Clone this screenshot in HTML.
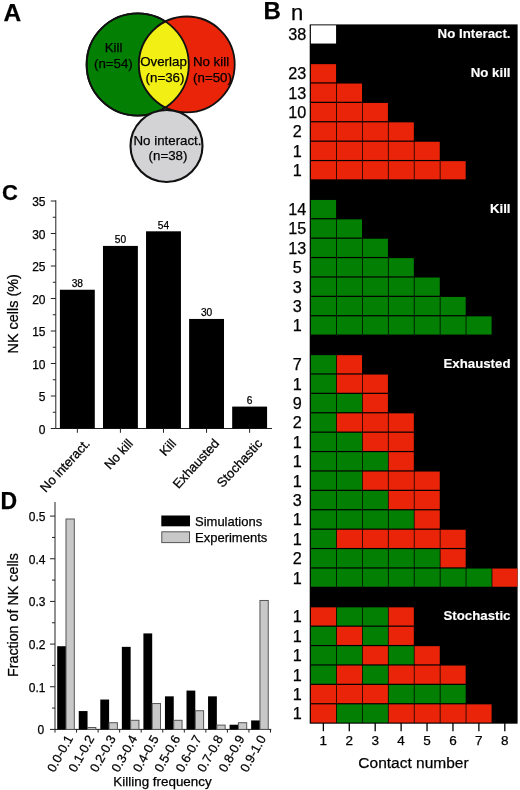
<!DOCTYPE html>
<html><head><meta charset="utf-8"><title>Figure</title>
<style>html,body{margin:0;padding:0;background:#fff}svg{display:block}text{font-family:"Liberation Sans", sans-serif;fill:#000;stroke:#000;stroke-width:0.25px}</style>
</head><body>
<svg width="520" height="790" viewBox="0 0 520 790">
<rect x="0" y="0" width="520" height="790" fill="#fff"/>
<g id="panelA">
<text x="3.4" y="20.8" font-size="24.5" font-weight="bold">A</text>
<circle cx="137.7" cy="64.5" r="51.1" fill="#038003" stroke="#111" stroke-width="1.8"/>
<circle cx="186.8" cy="64.4" r="47.9" fill="#ea2409" stroke="#111" stroke-width="1.8"/>
<clipPath id="cg"><circle cx="137.7" cy="64.5" r="51.1"/></clipPath>
<circle cx="186.8" cy="64.4" r="47.9" fill="#f2ef14" stroke="#111" stroke-width="1.8" clip-path="url(#cg)"/>
<circle cx="137.7" cy="64.5" r="51.1" fill="none" stroke="#111" stroke-width="1.8"/>
<circle cx="166.5" cy="146" r="36" fill="#d3d3d5" stroke="#111" stroke-width="2.1"/>
<text x="113.6" y="52" font-size="13.3" text-anchor="middle" >Kill</text>
<text x="113.4" y="67.5" font-size="13.3" text-anchor="middle" >(n=54)</text>
<text x="163.5" y="66" font-size="13.3" text-anchor="middle" >Overlap</text>
<text x="165" y="81.5" font-size="13.3" text-anchor="middle" >(n=36)</text>
<text x="211" y="66" font-size="13.3" text-anchor="middle" >No kill</text>
<text x="212.5" y="81.5" font-size="13.3" text-anchor="middle" >(n=50)</text>
<text x="167.5" y="145" font-size="13.3" text-anchor="middle" >No interact.</text>
<text x="168" y="160.2" font-size="13.3" text-anchor="middle" >(n=38)</text>
</g>
<g id="panelC">
<text x="2" y="199.6" font-size="22" font-weight="bold">C</text>
<path d="M55.8 200.3V428.5H272" fill="none" stroke="#222" stroke-width="1"/>
<path d="M50.8 428.5H55.8" stroke="#222" stroke-width="1"/>
<text x="45.5" y="433.8" font-size="12" text-anchor="end" >0</text>
<path d="M50.8 396.0H55.8" stroke="#222" stroke-width="1"/>
<text x="45.5" y="401.3" font-size="12" text-anchor="end" >5</text>
<path d="M50.8 363.5H55.8" stroke="#222" stroke-width="1"/>
<text x="45.5" y="368.8" font-size="12" text-anchor="end" >10</text>
<path d="M50.8 331.0H55.8" stroke="#222" stroke-width="1"/>
<text x="45.5" y="336.3" font-size="12" text-anchor="end" >15</text>
<path d="M50.8 298.5H55.8" stroke="#222" stroke-width="1"/>
<text x="45.5" y="303.8" font-size="12" text-anchor="end" >20</text>
<path d="M50.8 266.0H55.8" stroke="#222" stroke-width="1"/>
<text x="45.5" y="271.3" font-size="12" text-anchor="end" >25</text>
<path d="M50.8 233.5H55.8" stroke="#222" stroke-width="1"/>
<text x="45.5" y="238.8" font-size="12" text-anchor="end" >30</text>
<path d="M50.8 201.0H55.8" stroke="#222" stroke-width="1"/>
<text x="45.5" y="206.3" font-size="12" text-anchor="end" >35</text>
<path d="M52.8 412.25H55.8" stroke="#222" stroke-width="1"/>
<path d="M52.8 379.75H55.8" stroke="#222" stroke-width="1"/>
<path d="M52.8 347.25H55.8" stroke="#222" stroke-width="1"/>
<path d="M52.8 314.75H55.8" stroke="#222" stroke-width="1"/>
<path d="M52.8 282.25H55.8" stroke="#222" stroke-width="1"/>
<path d="M52.8 249.75H55.8" stroke="#222" stroke-width="1"/>
<path d="M52.8 217.25H55.8" stroke="#222" stroke-width="1"/>
<rect x="59.90" y="289.74" width="34.90" height="138.76" fill="#000"/>
<path d="M77.35 428.5V432.8" stroke="#222" stroke-width="1"/>
<text x="77.35" y="287.04" font-size="10.2" text-anchor="middle" >38</text>
<text font-size="13" text-anchor="end" transform="translate(90.75 444.00) rotate(-47.5)">No interact.</text>
<rect x="102.97" y="245.92" width="34.90" height="182.58" fill="#000"/>
<path d="M120.42 428.5V432.8" stroke="#222" stroke-width="1"/>
<text x="120.42" y="243.22" font-size="10.2" text-anchor="middle" >50</text>
<text font-size="13" text-anchor="end" transform="translate(133.82 444.00) rotate(-47.5)">No kill</text>
<rect x="146.04" y="231.31" width="34.90" height="197.19" fill="#000"/>
<path d="M163.49 428.5V432.8" stroke="#222" stroke-width="1"/>
<text x="163.49" y="228.61" font-size="10.2" text-anchor="middle" >54</text>
<text font-size="13" text-anchor="end" transform="translate(176.89 444.00) rotate(-47.5)">Kill</text>
<rect x="189.11" y="318.95" width="34.90" height="109.55" fill="#000"/>
<path d="M206.56 428.5V432.8" stroke="#222" stroke-width="1"/>
<text x="206.56" y="316.25" font-size="10.2" text-anchor="middle" >30</text>
<text font-size="13" text-anchor="end" transform="translate(219.96 444.00) rotate(-47.5)">Exhausted</text>
<rect x="232.18" y="406.59" width="34.90" height="21.91" fill="#000"/>
<path d="M249.63 428.5V432.8" stroke="#222" stroke-width="1"/>
<text x="249.63" y="403.89" font-size="10.2" text-anchor="middle" >6</text>
<text font-size="13" text-anchor="end" transform="translate(263.03 444.00) rotate(-47.5)">Stochastic</text>
<text font-size="14" text-anchor="middle" transform="translate(17.8 313.8) rotate(-90)" style="font-size:14.4px">NK cells (%)</text>
</g>
<g id="panelD">
<text x="0.4" y="509.3" font-size="23" font-weight="bold">D</text>
<path d="M55 502V729.4H271.3" fill="none" stroke="#222" stroke-width="1"/>
<path d="M50 729.40H55" stroke="#222" stroke-width="1"/>
<text x="44.3" y="734.3" font-size="12" text-anchor="end" >0</text>
<path d="M50 686.74H55" stroke="#222" stroke-width="1"/>
<text x="45.5" y="691.64" font-size="12" text-anchor="end" >0.1</text>
<path d="M50 644.08H55" stroke="#222" stroke-width="1"/>
<text x="45.5" y="648.98" font-size="12" text-anchor="end" >0.2</text>
<path d="M50 601.42H55" stroke="#222" stroke-width="1"/>
<text x="45.5" y="606.32" font-size="12" text-anchor="end" >0.3</text>
<path d="M50 558.76H55" stroke="#222" stroke-width="1"/>
<text x="45.5" y="563.66" font-size="12" text-anchor="end" >0.4</text>
<path d="M50 516.10H55" stroke="#222" stroke-width="1"/>
<text x="45.5" y="521.0" font-size="12" text-anchor="end" >0.5</text>
<path d="M52 708.07H55" stroke="#222" stroke-width="1"/>
<path d="M52 665.41H55" stroke="#222" stroke-width="1"/>
<path d="M52 622.75H55" stroke="#222" stroke-width="1"/>
<path d="M52 580.09H55" stroke="#222" stroke-width="1"/>
<path d="M52 537.43H55" stroke="#222" stroke-width="1"/>
<rect x="57.20" y="646.21" width="8.80" height="83.19" fill="#000"/>
<rect x="66.00" y="519.00" width="8.30" height="210.40" fill="#c8c8c8" stroke="#555" stroke-width="1"/>
<path d="M55.00 729.4V732.6" stroke="#222" stroke-width="1"/>
<text font-size="12.7" text-anchor="end" transform="translate(73.30 738.40) rotate(-61)">0.0-0.1</text>
<rect x="78.75" y="711.06" width="8.80" height="18.34" fill="#000"/>
<rect x="87.55" y="727.50" width="8.30" height="1.90" fill="#c8c8c8" stroke="#555" stroke-width="1"/>
<path d="M76.55 729.4V732.6" stroke="#222" stroke-width="1"/>
<text font-size="12.7" text-anchor="end" transform="translate(94.75 738.40) rotate(-61)">0.1-0.2</text>
<rect x="100.30" y="699.54" width="8.80" height="29.86" fill="#000"/>
<rect x="109.10" y="722.71" width="8.30" height="6.69" fill="#c8c8c8" stroke="#555" stroke-width="1"/>
<path d="M98.10 729.4V732.6" stroke="#222" stroke-width="1"/>
<text font-size="12.7" text-anchor="end" transform="translate(116.20 738.40) rotate(-61)">0.2-0.3</text>
<rect x="121.85" y="646.85" width="8.80" height="82.55" fill="#000"/>
<rect x="130.65" y="720.31" width="8.30" height="9.09" fill="#c8c8c8" stroke="#555" stroke-width="1"/>
<path d="M119.65 729.4V732.6" stroke="#222" stroke-width="1"/>
<text font-size="12.7" text-anchor="end" transform="translate(137.65 738.40) rotate(-61)">0.3-0.4</text>
<rect x="143.40" y="633.41" width="8.80" height="95.99" fill="#000"/>
<rect x="152.20" y="703.54" width="8.30" height="25.86" fill="#c8c8c8" stroke="#555" stroke-width="1"/>
<path d="M141.20 729.4V732.6" stroke="#222" stroke-width="1"/>
<text font-size="12.7" text-anchor="end" transform="translate(159.10 738.40) rotate(-61)">0.4-0.5</text>
<rect x="164.95" y="696.34" width="8.80" height="33.06" fill="#000"/>
<rect x="173.75" y="720.31" width="8.30" height="9.09" fill="#c8c8c8" stroke="#555" stroke-width="1"/>
<path d="M162.75 729.4V732.6" stroke="#222" stroke-width="1"/>
<text font-size="12.7" text-anchor="end" transform="translate(180.55 738.40) rotate(-61)">0.5-0.6</text>
<rect x="186.50" y="690.58" width="8.80" height="38.82" fill="#000"/>
<rect x="195.30" y="710.73" width="8.30" height="18.67" fill="#c8c8c8" stroke="#555" stroke-width="1"/>
<path d="M184.30 729.4V732.6" stroke="#222" stroke-width="1"/>
<text font-size="12.7" text-anchor="end" transform="translate(202.00 738.40) rotate(-61)">0.6-0.7</text>
<rect x="208.05" y="696.34" width="8.80" height="33.06" fill="#000"/>
<rect x="216.85" y="725.11" width="8.30" height="4.29" fill="#c8c8c8" stroke="#555" stroke-width="1"/>
<path d="M205.85 729.4V732.6" stroke="#222" stroke-width="1"/>
<text font-size="12.7" text-anchor="end" transform="translate(223.45 738.40) rotate(-61)">0.7-0.8</text>
<rect x="229.60" y="724.71" width="8.80" height="4.69" fill="#000"/>
<rect x="238.40" y="722.71" width="8.30" height="6.69" fill="#c8c8c8" stroke="#555" stroke-width="1"/>
<path d="M227.40 729.4V732.6" stroke="#222" stroke-width="1"/>
<text font-size="12.7" text-anchor="end" transform="translate(244.90 738.40) rotate(-61)">0.8-0.9</text>
<rect x="251.15" y="720.44" width="8.80" height="8.96" fill="#000"/>
<rect x="259.95" y="600.48" width="8.30" height="128.92" fill="#c8c8c8" stroke="#555" stroke-width="1"/>
<path d="M248.95 729.4V732.6" stroke="#222" stroke-width="1"/>
<text font-size="12.7" text-anchor="end" transform="translate(266.35 738.40) rotate(-61)">0.9-1.0</text>
<path d="M270.50 729.4V732.6" stroke="#222" stroke-width="1"/>
<rect x="161.3" y="515.5" width="28.7" height="10.8" fill="#000"/>
<rect x="161.8" y="531.8" width="27.7" height="10.8" fill="#c8c8c8" stroke="#555" stroke-width="1"/>
<text x="195" y="525.8" font-size="13" text-anchor="start" >Simulations</text>
<text x="195" y="542" font-size="13" text-anchor="start" >Experiments</text>
<text x="162.5" y="785.6" font-size="13.4" text-anchor="middle" >Killing frequency</text>
<text font-size="14" text-anchor="middle" transform="translate(18.2 615.1) rotate(-90)" style="font-size:14.3px">Fraction of NK cells</text>
</g>
<g id="panelB">
<text x="263.5" y="19.3" font-size="24" font-weight="bold">B</text>
<text x="291" y="20" font-size="22" text-anchor="start" >n</text>
<rect x="309.7" y="24.4" width="207.9" height="699.3" fill="#000"/>
<rect x="310.90" y="25.35" width="25.17" height="18.20" fill="#fff"/>
<text x="297.2" y="40.3" font-size="16.2" text-anchor="middle" >38</text>
<rect x="310.90" y="64.15" width="25.17" height="18.20" fill="#ea2409"/>
<text x="297.2" y="79.1" font-size="16.2" text-anchor="middle" >23</text>
<rect x="310.90" y="83.55" width="25.17" height="18.20" fill="#ea2409"/>
<rect x="336.82" y="83.55" width="25.17" height="18.20" fill="#ea2409"/>
<text x="297.2" y="98.5" font-size="16.2" text-anchor="middle" >13</text>
<rect x="310.90" y="102.95" width="25.17" height="18.20" fill="#ea2409"/>
<rect x="336.82" y="102.95" width="25.17" height="18.20" fill="#ea2409"/>
<rect x="362.74" y="102.95" width="25.17" height="18.20" fill="#ea2409"/>
<text x="297.2" y="117.9" font-size="16.2" text-anchor="middle" >10</text>
<rect x="310.90" y="122.35" width="25.17" height="18.20" fill="#ea2409"/>
<rect x="336.82" y="122.35" width="25.17" height="18.20" fill="#ea2409"/>
<rect x="362.74" y="122.35" width="25.17" height="18.20" fill="#ea2409"/>
<rect x="388.66" y="122.35" width="25.17" height="18.20" fill="#ea2409"/>
<text x="297.2" y="137.3" font-size="16.2" text-anchor="middle" >2</text>
<rect x="310.90" y="141.75" width="25.17" height="18.20" fill="#ea2409"/>
<rect x="336.82" y="141.75" width="25.17" height="18.20" fill="#ea2409"/>
<rect x="362.74" y="141.75" width="25.17" height="18.20" fill="#ea2409"/>
<rect x="388.66" y="141.75" width="25.17" height="18.20" fill="#ea2409"/>
<rect x="414.58" y="141.75" width="25.17" height="18.20" fill="#ea2409"/>
<text x="297.2" y="156.7" font-size="16.2" text-anchor="middle" >1</text>
<rect x="310.90" y="161.15" width="25.17" height="18.20" fill="#ea2409"/>
<rect x="336.82" y="161.15" width="25.17" height="18.20" fill="#ea2409"/>
<rect x="362.74" y="161.15" width="25.17" height="18.20" fill="#ea2409"/>
<rect x="388.66" y="161.15" width="25.17" height="18.20" fill="#ea2409"/>
<rect x="414.58" y="161.15" width="25.17" height="18.20" fill="#ea2409"/>
<rect x="440.50" y="161.15" width="25.17" height="18.20" fill="#ea2409"/>
<text x="297.2" y="176.1" font-size="16.2" text-anchor="middle" >1</text>
<rect x="310.90" y="199.95" width="25.17" height="18.20" fill="#038003"/>
<text x="297.2" y="214.9" font-size="16.2" text-anchor="middle" >14</text>
<rect x="310.90" y="219.35" width="25.17" height="18.20" fill="#038003"/>
<rect x="336.82" y="219.35" width="25.17" height="18.20" fill="#038003"/>
<text x="297.2" y="234.3" font-size="16.2" text-anchor="middle" >15</text>
<rect x="310.90" y="238.75" width="25.17" height="18.20" fill="#038003"/>
<rect x="336.82" y="238.75" width="25.17" height="18.20" fill="#038003"/>
<rect x="362.74" y="238.75" width="25.17" height="18.20" fill="#038003"/>
<text x="297.2" y="253.7" font-size="16.2" text-anchor="middle" >13</text>
<rect x="310.90" y="258.15" width="25.17" height="18.20" fill="#038003"/>
<rect x="336.82" y="258.15" width="25.17" height="18.20" fill="#038003"/>
<rect x="362.74" y="258.15" width="25.17" height="18.20" fill="#038003"/>
<rect x="388.66" y="258.15" width="25.17" height="18.20" fill="#038003"/>
<text x="297.2" y="273.1" font-size="16.2" text-anchor="middle" >5</text>
<rect x="310.90" y="277.55" width="25.17" height="18.20" fill="#038003"/>
<rect x="336.82" y="277.55" width="25.17" height="18.20" fill="#038003"/>
<rect x="362.74" y="277.55" width="25.17" height="18.20" fill="#038003"/>
<rect x="388.66" y="277.55" width="25.17" height="18.20" fill="#038003"/>
<rect x="414.58" y="277.55" width="25.17" height="18.20" fill="#038003"/>
<text x="297.2" y="292.5" font-size="16.2" text-anchor="middle" >3</text>
<rect x="310.90" y="296.95" width="25.17" height="18.20" fill="#038003"/>
<rect x="336.82" y="296.95" width="25.17" height="18.20" fill="#038003"/>
<rect x="362.74" y="296.95" width="25.17" height="18.20" fill="#038003"/>
<rect x="388.66" y="296.95" width="25.17" height="18.20" fill="#038003"/>
<rect x="414.58" y="296.95" width="25.17" height="18.20" fill="#038003"/>
<rect x="440.50" y="296.95" width="25.17" height="18.20" fill="#038003"/>
<text x="297.2" y="311.9" font-size="16.2" text-anchor="middle" >3</text>
<rect x="310.90" y="316.35" width="25.17" height="18.20" fill="#038003"/>
<rect x="336.82" y="316.35" width="25.17" height="18.20" fill="#038003"/>
<rect x="362.74" y="316.35" width="25.17" height="18.20" fill="#038003"/>
<rect x="388.66" y="316.35" width="25.17" height="18.20" fill="#038003"/>
<rect x="414.58" y="316.35" width="25.17" height="18.20" fill="#038003"/>
<rect x="440.50" y="316.35" width="25.17" height="18.20" fill="#038003"/>
<rect x="466.42" y="316.35" width="25.17" height="18.20" fill="#038003"/>
<text x="297.2" y="331.3" font-size="16.2" text-anchor="middle" >1</text>
<rect x="310.90" y="355.15" width="25.17" height="18.20" fill="#038003"/>
<rect x="336.82" y="355.15" width="25.17" height="18.20" fill="#ea2409"/>
<text x="297.2" y="370.1" font-size="16.2" text-anchor="middle" >7</text>
<rect x="310.90" y="374.55" width="25.17" height="18.20" fill="#038003"/>
<rect x="336.82" y="374.55" width="25.17" height="18.20" fill="#ea2409"/>
<rect x="362.74" y="374.55" width="25.17" height="18.20" fill="#ea2409"/>
<text x="297.2" y="389.5" font-size="16.2" text-anchor="middle" >1</text>
<rect x="310.90" y="393.95" width="25.17" height="18.20" fill="#038003"/>
<rect x="336.82" y="393.95" width="25.17" height="18.20" fill="#038003"/>
<rect x="362.74" y="393.95" width="25.17" height="18.20" fill="#ea2409"/>
<text x="297.2" y="408.9" font-size="16.2" text-anchor="middle" >9</text>
<rect x="310.90" y="413.35" width="25.17" height="18.20" fill="#038003"/>
<rect x="336.82" y="413.35" width="25.17" height="18.20" fill="#ea2409"/>
<rect x="362.74" y="413.35" width="25.17" height="18.20" fill="#ea2409"/>
<rect x="388.66" y="413.35" width="25.17" height="18.20" fill="#ea2409"/>
<text x="297.2" y="428.3" font-size="16.2" text-anchor="middle" >2</text>
<rect x="310.90" y="432.75" width="25.17" height="18.20" fill="#038003"/>
<rect x="336.82" y="432.75" width="25.17" height="18.20" fill="#038003"/>
<rect x="362.74" y="432.75" width="25.17" height="18.20" fill="#ea2409"/>
<rect x="388.66" y="432.75" width="25.17" height="18.20" fill="#ea2409"/>
<text x="297.2" y="447.7" font-size="16.2" text-anchor="middle" >1</text>
<rect x="310.90" y="452.15" width="25.17" height="18.20" fill="#038003"/>
<rect x="336.82" y="452.15" width="25.17" height="18.20" fill="#038003"/>
<rect x="362.74" y="452.15" width="25.17" height="18.20" fill="#038003"/>
<rect x="388.66" y="452.15" width="25.17" height="18.20" fill="#ea2409"/>
<text x="297.2" y="467.1" font-size="16.2" text-anchor="middle" >1</text>
<rect x="310.90" y="471.55" width="25.17" height="18.20" fill="#038003"/>
<rect x="336.82" y="471.55" width="25.17" height="18.20" fill="#038003"/>
<rect x="362.74" y="471.55" width="25.17" height="18.20" fill="#ea2409"/>
<rect x="388.66" y="471.55" width="25.17" height="18.20" fill="#ea2409"/>
<rect x="414.58" y="471.55" width="25.17" height="18.20" fill="#ea2409"/>
<text x="297.2" y="486.5" font-size="16.2" text-anchor="middle" >1</text>
<rect x="310.90" y="490.95" width="25.17" height="18.20" fill="#038003"/>
<rect x="336.82" y="490.95" width="25.17" height="18.20" fill="#038003"/>
<rect x="362.74" y="490.95" width="25.17" height="18.20" fill="#038003"/>
<rect x="388.66" y="490.95" width="25.17" height="18.20" fill="#ea2409"/>
<rect x="414.58" y="490.95" width="25.17" height="18.20" fill="#ea2409"/>
<text x="297.2" y="505.9" font-size="16.2" text-anchor="middle" >3</text>
<rect x="310.90" y="510.35" width="25.17" height="18.20" fill="#038003"/>
<rect x="336.82" y="510.35" width="25.17" height="18.20" fill="#038003"/>
<rect x="362.74" y="510.35" width="25.17" height="18.20" fill="#038003"/>
<rect x="388.66" y="510.35" width="25.17" height="18.20" fill="#038003"/>
<rect x="414.58" y="510.35" width="25.17" height="18.20" fill="#ea2409"/>
<text x="297.2" y="525.3" font-size="16.2" text-anchor="middle" >1</text>
<rect x="310.90" y="529.75" width="25.17" height="18.20" fill="#038003"/>
<rect x="336.82" y="529.75" width="25.17" height="18.20" fill="#ea2409"/>
<rect x="362.74" y="529.75" width="25.17" height="18.20" fill="#ea2409"/>
<rect x="388.66" y="529.75" width="25.17" height="18.20" fill="#ea2409"/>
<rect x="414.58" y="529.75" width="25.17" height="18.20" fill="#ea2409"/>
<rect x="440.50" y="529.75" width="25.17" height="18.20" fill="#ea2409"/>
<text x="297.2" y="544.7" font-size="16.2" text-anchor="middle" >1</text>
<rect x="310.90" y="549.15" width="25.17" height="18.20" fill="#038003"/>
<rect x="336.82" y="549.15" width="25.17" height="18.20" fill="#038003"/>
<rect x="362.74" y="549.15" width="25.17" height="18.20" fill="#038003"/>
<rect x="388.66" y="549.15" width="25.17" height="18.20" fill="#038003"/>
<rect x="414.58" y="549.15" width="25.17" height="18.20" fill="#038003"/>
<rect x="440.50" y="549.15" width="25.17" height="18.20" fill="#ea2409"/>
<text x="297.2" y="564.1" font-size="16.2" text-anchor="middle" >2</text>
<rect x="310.90" y="568.55" width="25.17" height="18.20" fill="#038003"/>
<rect x="336.82" y="568.55" width="25.17" height="18.20" fill="#038003"/>
<rect x="362.74" y="568.55" width="25.17" height="18.20" fill="#038003"/>
<rect x="388.66" y="568.55" width="25.17" height="18.20" fill="#038003"/>
<rect x="414.58" y="568.55" width="25.17" height="18.20" fill="#038003"/>
<rect x="440.50" y="568.55" width="25.17" height="18.20" fill="#038003"/>
<rect x="466.42" y="568.55" width="25.17" height="18.20" fill="#038003"/>
<rect x="492.34" y="568.55" width="25.17" height="18.20" fill="#ea2409"/>
<text x="297.2" y="583.5" font-size="16.2" text-anchor="middle" >1</text>
<rect x="310.90" y="607.35" width="25.17" height="18.20" fill="#ea2409"/>
<rect x="336.82" y="607.35" width="25.17" height="18.20" fill="#038003"/>
<rect x="362.74" y="607.35" width="25.17" height="18.20" fill="#038003"/>
<rect x="388.66" y="607.35" width="25.17" height="18.20" fill="#ea2409"/>
<text x="297.2" y="622.3" font-size="16.2" text-anchor="middle" >1</text>
<rect x="310.90" y="626.75" width="25.17" height="18.20" fill="#038003"/>
<rect x="336.82" y="626.75" width="25.17" height="18.20" fill="#ea2409"/>
<rect x="362.74" y="626.75" width="25.17" height="18.20" fill="#038003"/>
<rect x="388.66" y="626.75" width="25.17" height="18.20" fill="#ea2409"/>
<text x="297.2" y="641.7" font-size="16.2" text-anchor="middle" >1</text>
<rect x="310.90" y="646.15" width="25.17" height="18.20" fill="#038003"/>
<rect x="336.82" y="646.15" width="25.17" height="18.20" fill="#038003"/>
<rect x="362.74" y="646.15" width="25.17" height="18.20" fill="#ea2409"/>
<rect x="388.66" y="646.15" width="25.17" height="18.20" fill="#038003"/>
<rect x="414.58" y="646.15" width="25.17" height="18.20" fill="#ea2409"/>
<text x="297.2" y="661.1" font-size="16.2" text-anchor="middle" >1</text>
<rect x="310.90" y="665.55" width="25.17" height="18.20" fill="#038003"/>
<rect x="336.82" y="665.55" width="25.17" height="18.20" fill="#ea2409"/>
<rect x="362.74" y="665.55" width="25.17" height="18.20" fill="#038003"/>
<rect x="388.66" y="665.55" width="25.17" height="18.20" fill="#ea2409"/>
<rect x="414.58" y="665.55" width="25.17" height="18.20" fill="#ea2409"/>
<rect x="440.50" y="665.55" width="25.17" height="18.20" fill="#ea2409"/>
<text x="297.2" y="680.5" font-size="16.2" text-anchor="middle" >1</text>
<rect x="310.90" y="684.95" width="25.17" height="18.20" fill="#ea2409"/>
<rect x="336.82" y="684.95" width="25.17" height="18.20" fill="#ea2409"/>
<rect x="362.74" y="684.95" width="25.17" height="18.20" fill="#ea2409"/>
<rect x="388.66" y="684.95" width="25.17" height="18.20" fill="#038003"/>
<rect x="414.58" y="684.95" width="25.17" height="18.20" fill="#038003"/>
<rect x="440.50" y="684.95" width="25.17" height="18.20" fill="#038003"/>
<text x="297.2" y="699.9" font-size="16.2" text-anchor="middle" >1</text>
<rect x="310.90" y="704.35" width="25.17" height="18.20" fill="#ea2409"/>
<rect x="336.82" y="704.35" width="25.17" height="18.20" fill="#038003"/>
<rect x="362.74" y="704.35" width="25.17" height="18.20" fill="#038003"/>
<rect x="388.66" y="704.35" width="25.17" height="18.20" fill="#ea2409"/>
<rect x="414.58" y="704.35" width="25.17" height="18.20" fill="#ea2409"/>
<rect x="440.50" y="704.35" width="25.17" height="18.20" fill="#ea2409"/>
<rect x="466.42" y="704.35" width="25.17" height="18.20" fill="#ea2409"/>
<text x="297.2" y="719.3" font-size="16.2" text-anchor="middle" >1</text>
<text x="510.5" y="38.10" font-size="13.25" font-weight="bold" text-anchor="end" style="fill:#fff;stroke:#fff;stroke-width:0.15px">No Interact.</text>
<text x="510.5" y="76.90" font-size="13.25" font-weight="bold" text-anchor="end" style="fill:#fff;stroke:#fff;stroke-width:0.15px">No kill</text>
<text x="510.5" y="212.70" font-size="13.25" font-weight="bold" text-anchor="end" style="fill:#fff;stroke:#fff;stroke-width:0.15px">Kill</text>
<text x="510.5" y="367.90" font-size="13.25" font-weight="bold" text-anchor="end" style="fill:#fff;stroke:#fff;stroke-width:0.15px">Exhausted</text>
<text x="510.5" y="620.10" font-size="13.25" font-weight="bold" text-anchor="end" style="fill:#fff;stroke:#fff;stroke-width:0.15px">Stochastic</text>
<path d="M323.36 723V731.2" stroke="#000" stroke-width="1.3"/>
<text x="323.36" y="745.3" font-size="13.5" text-anchor="middle" >1</text>
<path d="M349.28 723V731.2" stroke="#000" stroke-width="1.3"/>
<text x="349.28" y="745.3" font-size="13.5" text-anchor="middle" >2</text>
<path d="M375.20 723V731.2" stroke="#000" stroke-width="1.3"/>
<text x="375.2" y="745.3" font-size="13.5" text-anchor="middle" >3</text>
<path d="M401.12 723V731.2" stroke="#000" stroke-width="1.3"/>
<text x="401.12" y="745.3" font-size="13.5" text-anchor="middle" >4</text>
<path d="M427.04 723V731.2" stroke="#000" stroke-width="1.3"/>
<text x="427.04" y="745.3" font-size="13.5" text-anchor="middle" >5</text>
<path d="M452.96 723V731.2" stroke="#000" stroke-width="1.3"/>
<text x="452.96" y="745.3" font-size="13.5" text-anchor="middle" >6</text>
<path d="M478.88 723V731.2" stroke="#000" stroke-width="1.3"/>
<text x="478.88" y="745.3" font-size="13.5" text-anchor="middle" >7</text>
<path d="M504.80 723V731.2" stroke="#000" stroke-width="1.3"/>
<text x="504.8" y="745.3" font-size="13.5" text-anchor="middle" >8</text>
<text x="413.5" y="768" font-size="15.5" text-anchor="middle" >Contact number</text>
</g>
</svg></body></html>
